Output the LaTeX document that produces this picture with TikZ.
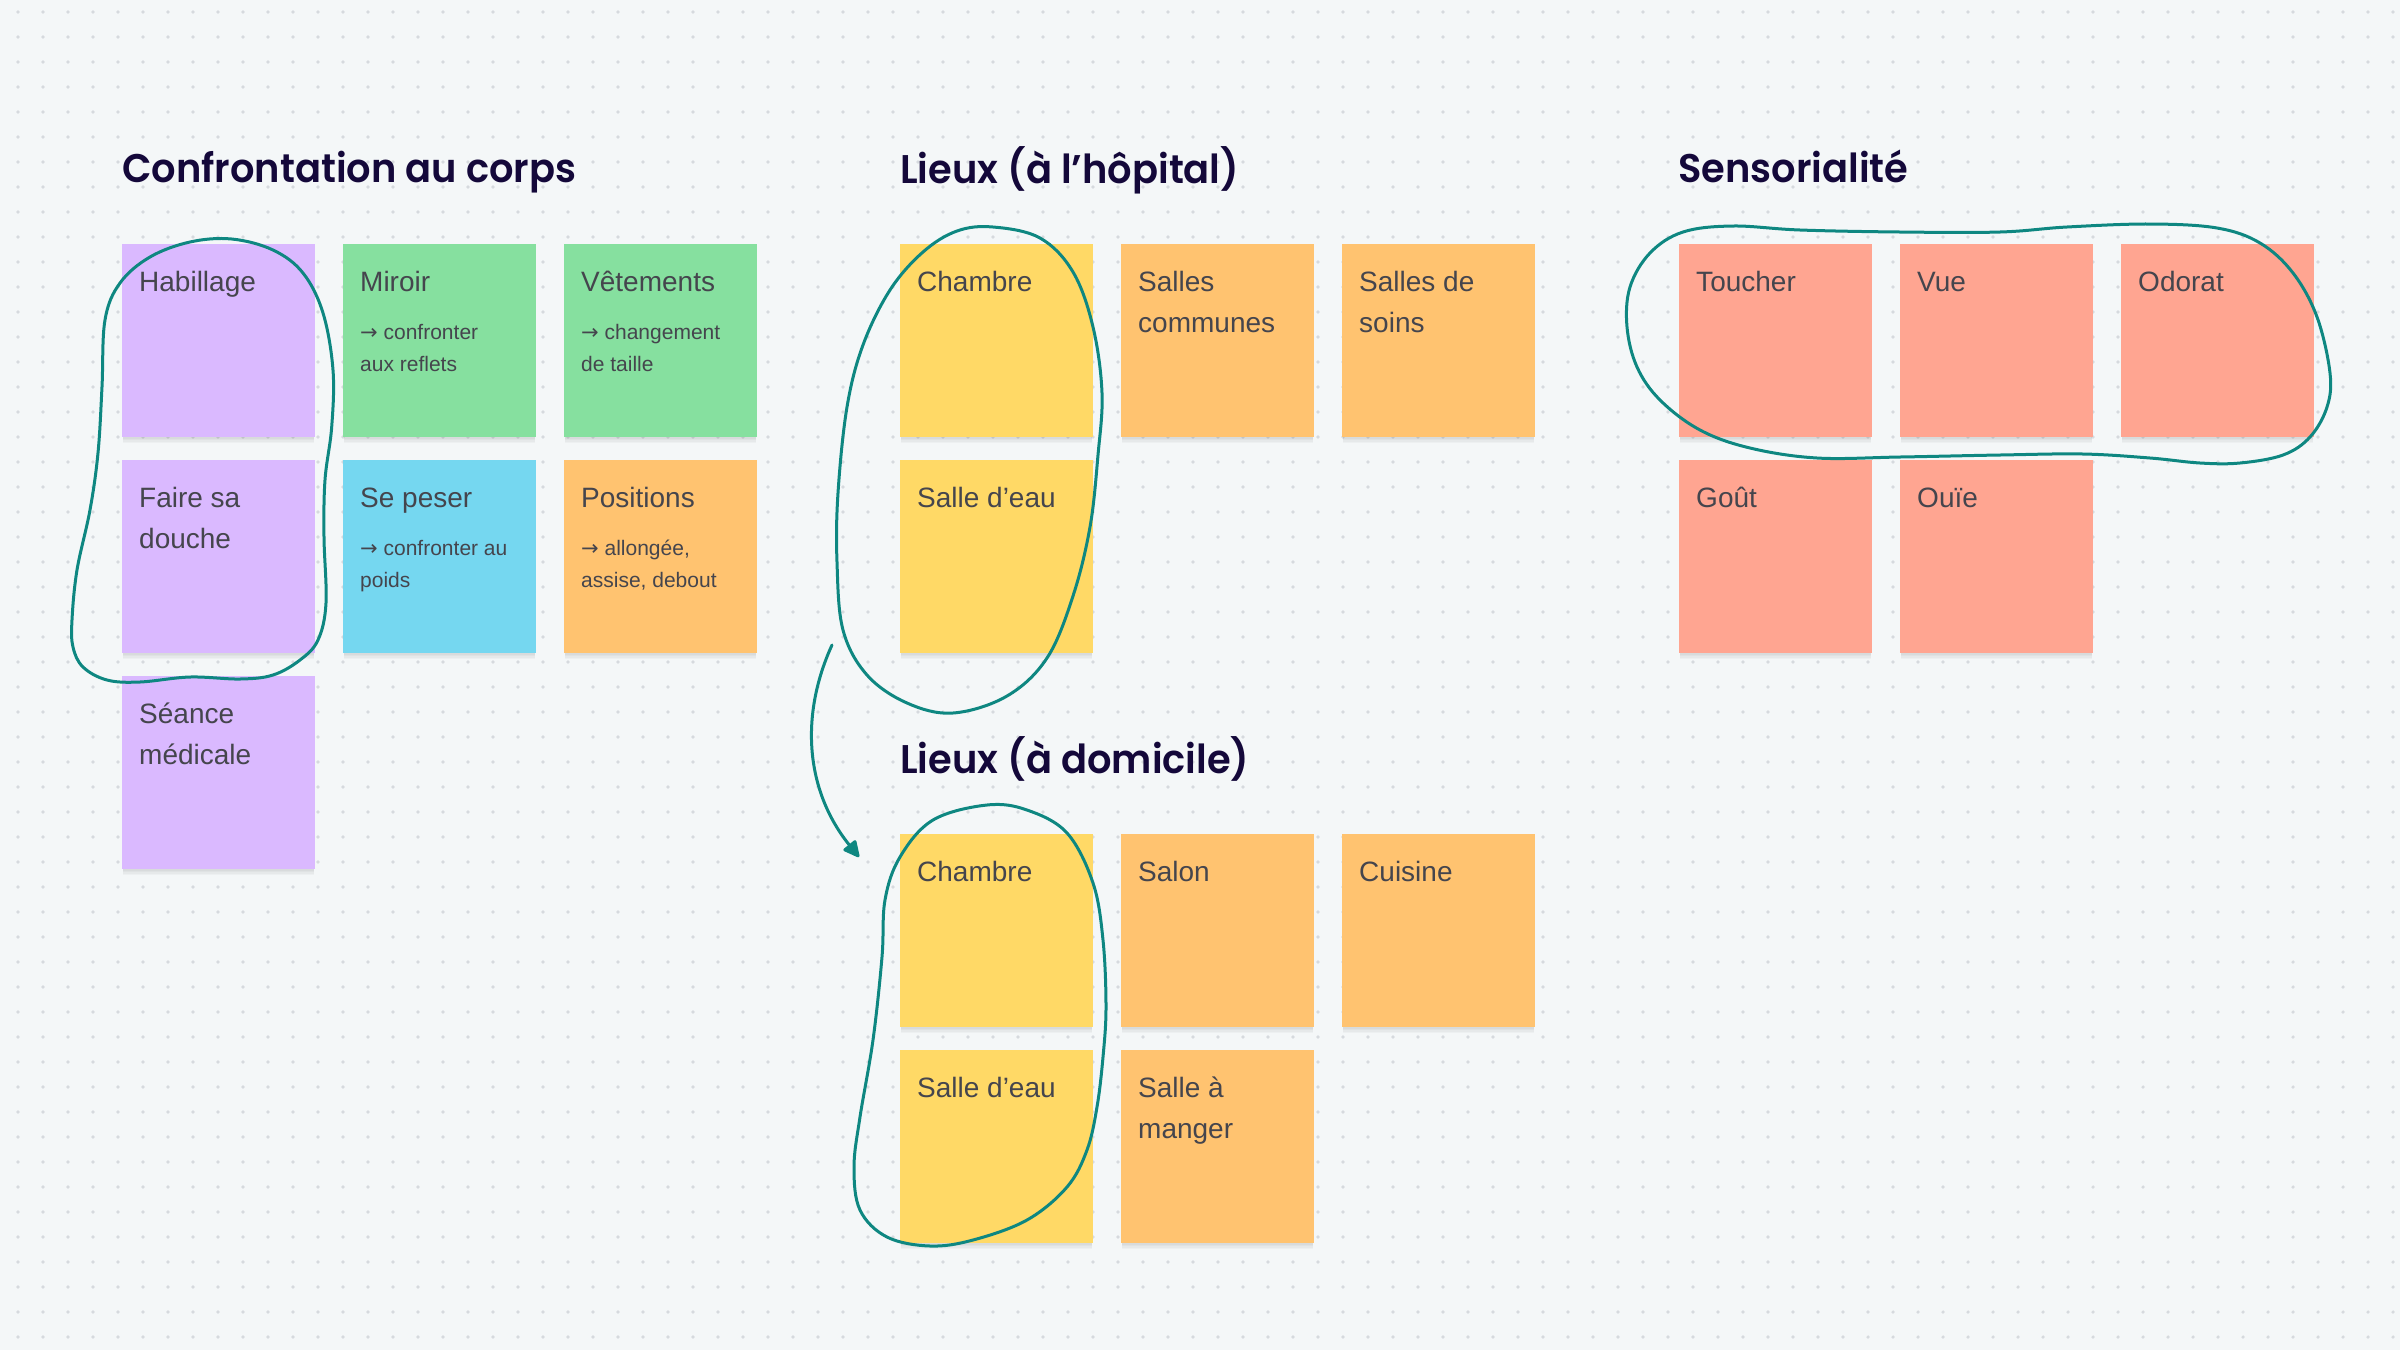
\documentclass[tikz,border=0pt]{standalone}
\usepackage{fontspec}
\setmainfont{Liberation Sans}
\newfontfamily\titlefont{Poppins}[UprightFont={* SemiBold}, FakeStretch=0.96]
\newfontfamily\arrowfont{DejaVu Sans}
\usetikzlibrary{arrows.meta}

\definecolor{bgc}{HTML}{F4F7F8}
\definecolor{dotc}{HTML}{D6DADE}
\definecolor{titlec}{HTML}{14083A}
\definecolor{notetext}{HTML}{45454D}
\definecolor{cpurple}{HTML}{DAB9FF}
\definecolor{cgreen}{HTML}{86E09F}
\definecolor{ccyan}{HTML}{75D7F0}
\definecolor{corange}{HTML}{FFC370}
\definecolor{cyellow}{HTML}{FFD966}
\definecolor{csalmon}{HTML}{FFA591}
\definecolor{lassoc}{HTML}{0E8781}

\tikzset{
  stickybox/.style={draw=none, minimum width=193pt, minimum height=193pt, inner sep=0pt, anchor=north west},
  notelabel/.style={anchor=base west, inner sep=0pt, text=notetext, font=\fontsize{28}{41.7}\selectfont},
  sublabel/.style={anchor=base west, inner sep=0pt, text=notetext, font=\fontsize{21}{31.7}\selectfont},
  titlelabel/.style={anchor=base west, inner sep=0pt, text=titlec, font=\titlefont\fontsize{40}{46}\selectfont},
  lasso/.style={draw=lassoc, line width=3pt, line cap=round, line join=round},
  dotrow/.style={draw=dotc, line width=3.6pt, line cap=round, dash pattern=on 0pt off 25pt},
}

\newcommand\sticky[5]{%
  \foreach \k in {1,...,4}{\fill[black, opacity=0.028] (#2+1,#3+1.6*\k) rectangle (#2+192,#3+193+1.6*\k);}
  \node[stickybox, fill=#4] (#1) at (#2,#3) {};
  \node[notelabel] (#1-t) at ([shift={(17pt,-47pt)}]#1.north west) {\parbox[t]{172pt}{\raggedright #5}};
}
\newcommand\subnote[2]{%
  \node[sublabel] (#1-s) at ([shift={(17pt,-95.4pt)}]#1.north west) {\parbox[t]{172pt}{\raggedright #2}};
}

\begin{document}
\begin{tikzpicture}[x=1pt, y=-1pt]
\useasboundingbox (0,0) rectangle (2400,1350);
\fill[bgc] (0,0) rectangle (2400,1350);
\foreach \j in {0,...,53}{\draw[dotrow] (18,12+25*\j) -- (2400,12+25*\j);}

% Titles
\node[titlelabel] (t1) at (122,182) {Confrontation au corps};
\node[titlelabel] (t2) at (900,183) {Lieux (à l’hôpital)};
\node[titlelabel] (t3) at (900,773) {Lieux (à domicile)};
\node[titlelabel] (t4) at (1678,182) {Sensorialité};

% Group 1
\sticky{hab}{122}{244}{cpurple}{Habillage}
\sticky{mir}{343}{244}{cgreen}{Miroir}
\subnote{mir}{{\arrowfont →} confronter\\aux reflets}
\sticky{vet}{564}{244}{cgreen}{Vêtements}
\subnote{vet}{{\arrowfont →} changement\\de taille}
\sticky{dou}{122}{460}{cpurple}{Faire sa\\douche}
\sticky{pes}{343}{460}{ccyan}{Se peser}
\subnote{pes}{{\arrowfont →} confronter au\\poids}
\sticky{pos}{564}{460}{corange}{Positions}
\subnote{pos}{{\arrowfont →} allongée,\\assise, debout}
\sticky{sea}{122}{676}{cpurple}{Séance\\médicale}

% Group 2 hospital
\sticky{hch}{900}{244}{cyellow}{Chambre}
\sticky{hsc}{1121}{244}{corange}{Salles\\communes}
\sticky{hss}{1342}{244}{corange}{Salles de\\soins}
\sticky{hse}{900}{460}{cyellow}{Salle d’eau}

% Group 2 home
\sticky{dch}{900}{834}{cyellow}{Chambre}
\sticky{dsa}{1121}{834}{corange}{Salon}
\sticky{dcu}{1342}{834}{corange}{Cuisine}
\sticky{dse}{900}{1050}{cyellow}{Salle d’eau}
\sticky{dsm}{1121}{1050}{corange}{Salle à\\manger}

% Group 3
\sticky{tou}{1679}{244}{csalmon}{Toucher}
\sticky{vue}{1900}{244}{csalmon}{Vue}
\sticky{odo}{2121}{244}{csalmon}{Odorat}
\sticky{gou}{1679}{460}{csalmon}{Goût}
\sticky{oui}{1900}{460}{csalmon}{Ouïe}

% Lassos
\draw[lasso] plot[smooth cycle, tension=0.6] coordinates {
 (231.7,239) (273,250) (303,273) (323,313) (333,370) (331.7,427) (325,480) (324,537)
 (326,603) (318,640) (300,660) (273,675) (240,679) (190,677) (140,682) (107,680)
 (83,667) (73,647) (72,620) (77,570) (90,510) (98,453) (102,387) (105,320)
 (120,283) (150,257) (190,242)};
\draw[lasso] plot[smooth cycle, tension=0.6] coordinates {
 (993,227) (1040,238) (1073,272) (1093,327) (1102,393) (1098,455) (1090,527) (1073,596)
 (1047,658) (1007,696) (953,713) (907,703) (867,675) (843,630) (837,562) (838,493)
 (847,407) (863,345) (890,290) (923,252) (957,231)};
\draw[lasso] plot[smooth cycle, tension=0.6] coordinates {
 (987,805) (1027,810) (1067,833) (1093,883) (1103,940) (1106,1007) (1103,1057) (1097,1107)
 (1087,1150) (1067,1187) (1027,1220) (973,1240) (930,1246) (887,1237) (860,1210) (854,1167)
 (860,1117) (873,1040) (882,957) (885,900) (900,857) (933,820)};
\draw[lasso] plot[smooth cycle, tension=0.6] coordinates {
 (1733,226) (1800,230) (1900,232) (2000,232) (2067,227) (2150,224) (2217,228) (2260,243)
 (2293,273) (2317,317) (2330,373) (2327,407) (2310,437) (2283,455) (2240,463) (2200,463)
 (2150,458) (2083,454) (2000,455) (1900,457) (1817,458) (1750,448) (1700,430) (1660,400)
 (1637,367) (1627,327) (1630,287) (1650,253) (1683,232)};

% Arrow
\coordinate (arrS) at (832,645);
\coordinate (arrE) at (859,857);
\draw[lasso, -{Triangle[round, length=18pt, width=17pt]}] (arrS) .. controls (800,715) and (805,790) .. (arrE);
\end{tikzpicture}
\end{document}
